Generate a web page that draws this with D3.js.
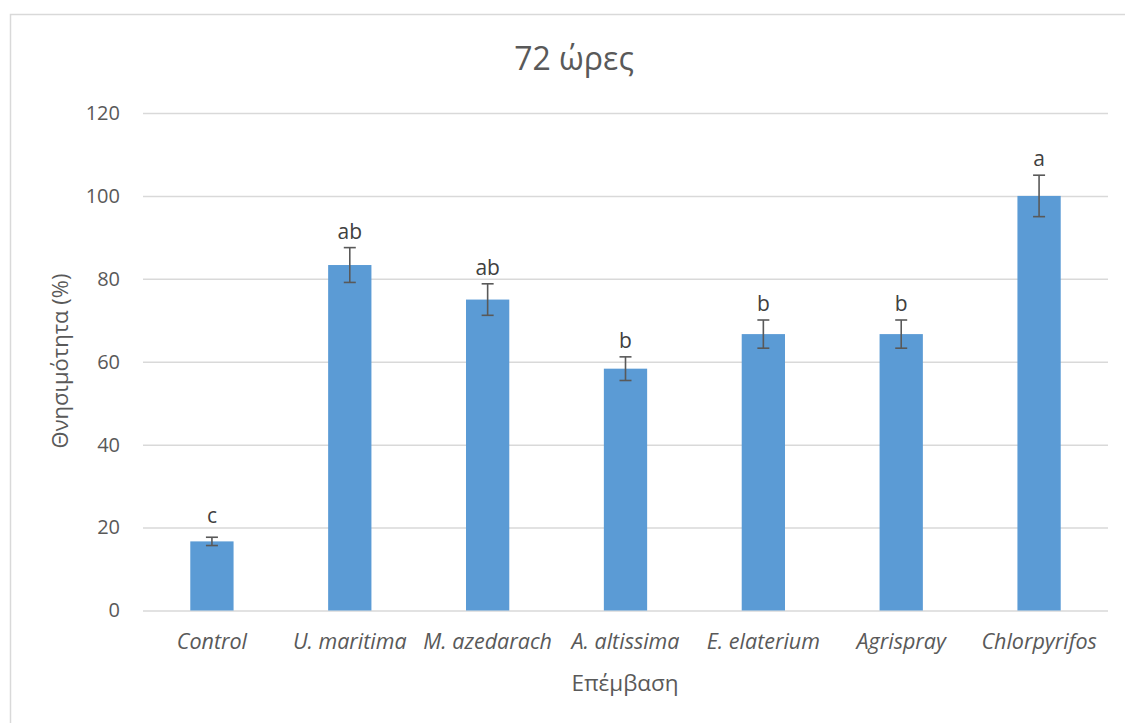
<!DOCTYPE html>
<html>
<head>
<meta charset="utf-8">
<script src="https://cdn.jsdelivr.net/npm/d3@7"></script>
<style>
  html, body { margin: 0; padding: 0; background: #fff; }
  svg { display: block; font-family: "Open Sans", "Noto Sans", sans-serif; }
</style>
</head>
<body>
<svg id="chart" width="1125" height="723"></svg>
<script>
// Mortality after 72 hours per treatment (mean %, ± error) with significance letters
const treatments = ["Control", "U. maritima", "M. azedarach", "A. altissima", "E. elaterium", "Agrispray", "Chlorpyrifos"];
const mortality = [16.67, 83.33, 75, 58.33, 66.67, 66.67, 100];
const errors = [1.0, 4.2, 3.8, 2.85, 3.4, 3.4, 5.0];
const groups = ["c", "ab", "ab", "b", "b", "b", "a"];
const yTicks = [0, 20, 40, 60, 80, 100, 120];

const textColor = "#595959";
const gridColor = "#d9d9d9";
const barColor = "#5b9bd5";

const svg = d3.select("#chart");

// chart frame
svg.append("rect")
  .attr("x", 10.5).attr("y", 14.5)
  .attr("width", 1140).attr("height", 740)
  .attr("fill", "none")
  .attr("stroke", gridColor)
  .attr("stroke-width", 1.5);

const plot = { left: 143, right: 1108, top: 113, bottom: 610.5 };

const x = d3.scaleBand()
  .domain(treatments)
  .range([plot.left, plot.right])
  .paddingInner(0.686)
  .paddingOuter(0.343);

const y = d3.scaleLinear()
  .domain([0, 120])
  .range([plot.bottom, plot.top]);

// horizontal gridlines and value labels
const yAxis = d3.axisLeft(y)
  .tickValues(yTicks)
  .tickSize(-(plot.right - plot.left))
  .tickPadding(23)
  .tickFormat(d3.format("d"));

const gy = svg.append("g")
  .attr("transform", `translate(${plot.left},0)`)
  .call(yAxis);
gy.select(".domain").remove();
gy.selectAll(".tick line")
  .attr("stroke", gridColor)
  .attr("stroke-width", 1.5);
gy.selectAll(".tick text")
  .attr("fill", textColor)
  .attr("font-size", 20)
  .attr("font-family", "'Open Sans', sans-serif");

// bars
const data = treatments.map((t, i) => ({ t, v: mortality[i], e: errors[i], g: groups[i] }));

svg.append("g").selectAll("rect")
  .data(data)
  .join("rect")
  .attr("x", d => x(d.t))
  .attr("width", x.bandwidth())
  .attr("y", d => y(d.v))
  .attr("height", d => y(0) - y(d.v))
  .attr("fill", barColor);

// error bars
const capHalf = 6;
const eb = svg.append("g")
  .attr("stroke", textColor)
  .attr("stroke-width", 1.6)
  .selectAll("g")
  .data(data)
  .join("g")
  .attr("transform", d => `translate(${x(d.t) + x.bandwidth() / 2},0)`);
eb.append("line")
  .attr("y1", d => y(d.v + d.e))
  .attr("y2", d => y(d.v - d.e));
eb.append("line")
  .attr("x1", -capHalf).attr("x2", capHalf)
  .attr("y1", d => y(d.v + d.e)).attr("y2", d => y(d.v + d.e));
eb.append("line")
  .attr("x1", -capHalf).attr("x2", capHalf)
  .attr("y1", d => y(d.v - d.e)).attr("y2", d => y(d.v - d.e));

// significance letters above each bar
svg.append("g").selectAll("text")
  .data(data)
  .join("text")
  .attr("x", d => x(d.t) + x.bandwidth() / 2)
  .attr("y", d => Math.min(y(d.v + d.e) - 9, y(d.v) - 18))
  .attr("text-anchor", "middle")
  .attr("fill", "#404040")
  .attr("font-size", 21)
  .text(d => d.g);

// category labels
const gx = svg.append("g")
  .attr("transform", `translate(0,${plot.bottom})`)
  .call(d3.axisBottom(x).tickSize(0).tickPadding(0));
gx.select(".domain").remove();
gx.selectAll(".tick text")
  .attr("y", 38)
  .attr("dy", null)
  .attr("fill", textColor)
  .attr("font-size", 21.5)
  .attr("font-style", "italic")
  .attr("font-family", "'Open Sans', sans-serif");

// title
svg.append("text")
  .attr("x", 574).attr("y", 70)
  .attr("text-anchor", "middle")
  .attr("fill", textColor)
  .attr("font-size", 32)
  .text("72 ώρες");

// axis titles
svg.append("text")
  .attr("x", 625).attr("y", 691)
  .attr("text-anchor", "middle")
  .attr("fill", textColor)
  .attr("font-size", 22.5)
  .text("Επέμβαση");

svg.append("text")
  .attr("transform", "translate(68,361) rotate(-90)")
  .attr("text-anchor", "middle")
  .attr("fill", textColor)
  .attr("font-size", 22)
  .text("Θνησιμότητα (%)");
</script>
</body>
</html>
